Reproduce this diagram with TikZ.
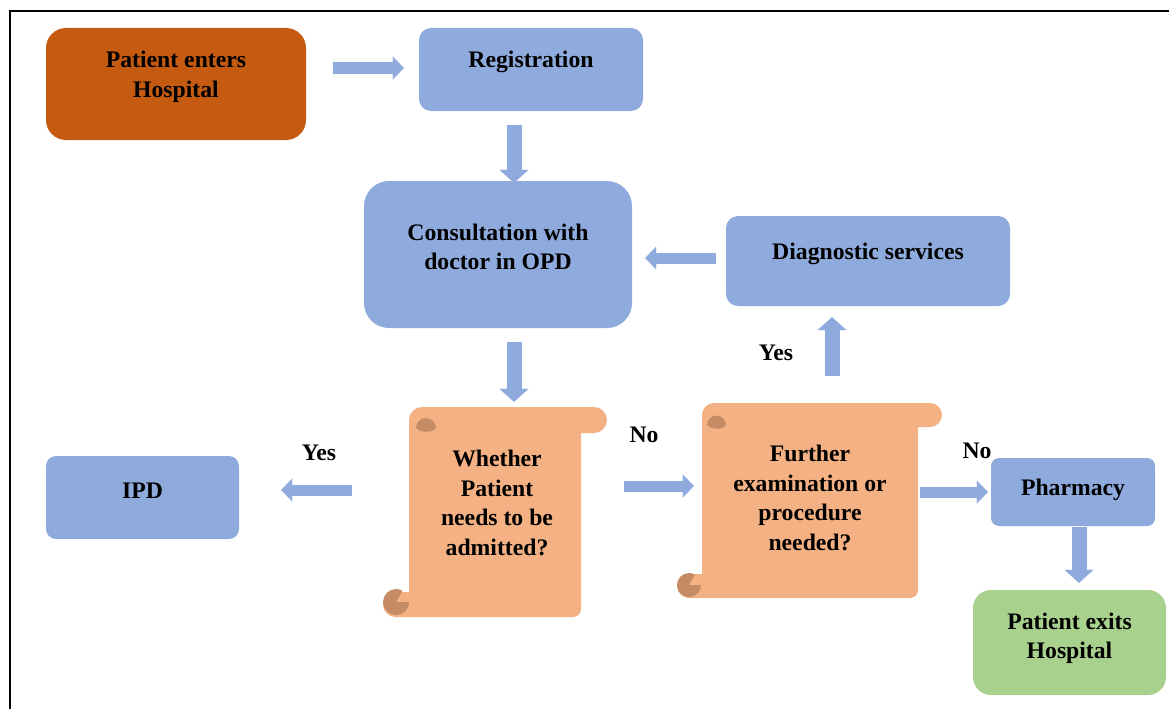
\documentclass[tikz,border=0pt]{standalone}
\usepackage{fontspec}
\setmainfont{Liberation Serif}
\usetikzlibrary{arrows.meta}
\definecolor{ob}{HTML}{C55A11}
\definecolor{bl}{HTML}{8FAADC}
\definecolor{gr}{HTML}{A9D18E}
\definecolor{sc}{HTML}{F4B183}
\definecolor{cu}{HTML}{C48B65}
\newcommand{\myscroll}[8]{%
  \pgfmathsetmacro\rt{(#6-#5)/2}%
  \pgfmathsetmacro\rb{(#8-#7)/2}%
  \fill[sc] (#2,{#5+\rt}) arc[start angle=180,end angle=270,radius=\rt]
    -- ({#4-\rt},#5) arc[start angle=-90,end angle=90,radius=\rt]
    -- (#3,#6) -- (#3,{#8-8}) arc[start angle=0,end angle=90,radius=8]
    -- ({#1+\rb},#8) arc[start angle=90,end angle=270,radius=\rb]
    -- (#2,#7) -- cycle;
}
\tikzset{
  box/.style={draw=none, inner sep=0pt},
  txt/.style={font=\fontsize{23.7}{29.5}\selectfont\bfseries, align=center, inner sep=0pt},
  harrow/.style={draw=bl, line width=11pt, -{Triangle[length=11pt,width=23pt,line width=0.01pt]}},
  varrow/.style={draw=bl, line width=15pt, -{Triangle[length=13pt,width=29pt,line width=0.01pt]}},
  curl/.style={fill=cu}
}
\begin{document}
\begin{tikzpicture}[x=1pt,y=-1pt]
\useasboundingbox (0,0) rectangle (1169,709);
\draw[line width=2.2pt] (10,709) -- (10,11) -- (1169,11);

% boxes
\node[box, fill=ob, minimum width=260pt, minimum height=112pt, rounded corners=20pt] (pe) at (176,84) {};
\node[txt] at (176,77) {Patient enters\\Hospital};
\node[box, fill=bl, minimum width=224pt, minimum height=83pt, rounded corners=12pt] (reg) at (531,69.5) {};
\node[txt] at (531,62) {Registration};
\node[box, fill=bl, minimum width=268pt, minimum height=147pt, rounded corners=25pt] (cons) at (498,254.5) {};
\node[txt] at (498,247) {Consultation with\\doctor in OPD};
\node[box, fill=bl, minimum width=284pt, minimum height=90pt, rounded corners=12pt] (diag) at (868,261) {};
\node[txt] at (868,254) {Diagnostic services};
\node[box, fill=bl, minimum width=193pt, minimum height=83pt, rounded corners=10pt] (ipd) at (142.5,497.5) {};
\node[txt] at (142.5,491) {IPD};
\node[box, fill=bl, minimum width=164pt, minimum height=68pt, rounded corners=8pt] (ph) at (1073,492) {};
\node[txt] at (1073,490) {Pharmacy};
\node[box, fill=gr, minimum width=193pt, minimum height=105pt, rounded corners=18pt] (ex) at (1069.5,642.5) {};
\node[txt] at (1069.5,638.5) {Patient exits\\Hospital};

% scrolls
\myscroll{383}{409}{581}{607}{407}{433}{592}{617}
\fill[curl] (416,428) arc[start angle=180,end angle=360,radius=10] .. controls +(-4,5) and +(5,5) .. cycle;
\fill[curl] (396,602) -- ++(0:13) arc[start angle=0,end angle=300,radius=13] -- cycle;
\node[box, minimum width=172pt, minimum height=210pt] (s1) at (495,512) {};
\node[txt] at (497,503) {Whether\\Patient\\needs to be\\admitted?};

\myscroll{677}{702}{918}{942}{403}{427}{574}{598}
\fill[curl] (707,425) arc[start angle=180,end angle=360,radius=9.5] .. controls +(-4,5) and +(5,5) .. cycle;
\fill[curl] (689,585) -- ++(0:12) arc[start angle=0,end angle=300,radius=12] -- cycle;
\node[box, minimum width=216pt, minimum height=195pt] (s2) at (810,500.5) {};
\node[txt] at (810,498) {Further\\examination or\\procedure\\needed?};

% helper coordinates
\coordinate (c514) at (514,0);
\coordinate (c832) at (832,0);
\coordinate (c1079) at (1079,0);
\coordinate (r68) at (0,68);
\coordinate (r258) at (0,258);
\coordinate (r490) at (0,490);
\coordinate (r486) at (0,486);
\coordinate (r492) at (0,492);

% connectors
\draw[harrow, shorten <=27pt, shorten >=15pt] (pe.east |- r68) -- (reg.west |- r68);
\draw[varrow, shorten <=14pt, shorten >=-2pt] (reg.south -| c514) -- (cons.north -| c514);
\draw[varrow, shorten <=14pt, shorten >=5pt] (cons.south -| c514) -- (s1.north -| c514);
\draw[harrow, shorten <=10pt, shorten >=13pt] (diag.west |- r258) -- (cons.east |- r258);
\draw[varrow, shorten <=27pt, shorten >=11pt] (s2.north -| c832) -- (diag.south -| c832);
\draw[harrow, shorten <=57pt, shorten >=42pt] (s1.west |- r490) -- (ipd.east |- r490);
\draw[harrow, shorten <=43pt, shorten >=8pt] (s1.east |- r486) -- (s2.west |- r486);
\draw[harrow, shorten <=2pt, shorten >=3pt] (s2.east |- r492) -- (ph.west |- r492);
\draw[varrow, shorten <=1pt, shorten >=7pt] (ph.south -| c1079) -- (ex.north -| c1079);

% labels
\node[txt] (y1) at (776,353) {Yes};
\node[txt] (n1) at (644,435) {No};
\node[txt] (y2) at (319,453) {Yes};
\node[txt] (n2) at (977,451) {No};
\end{tikzpicture}
\end{document}
